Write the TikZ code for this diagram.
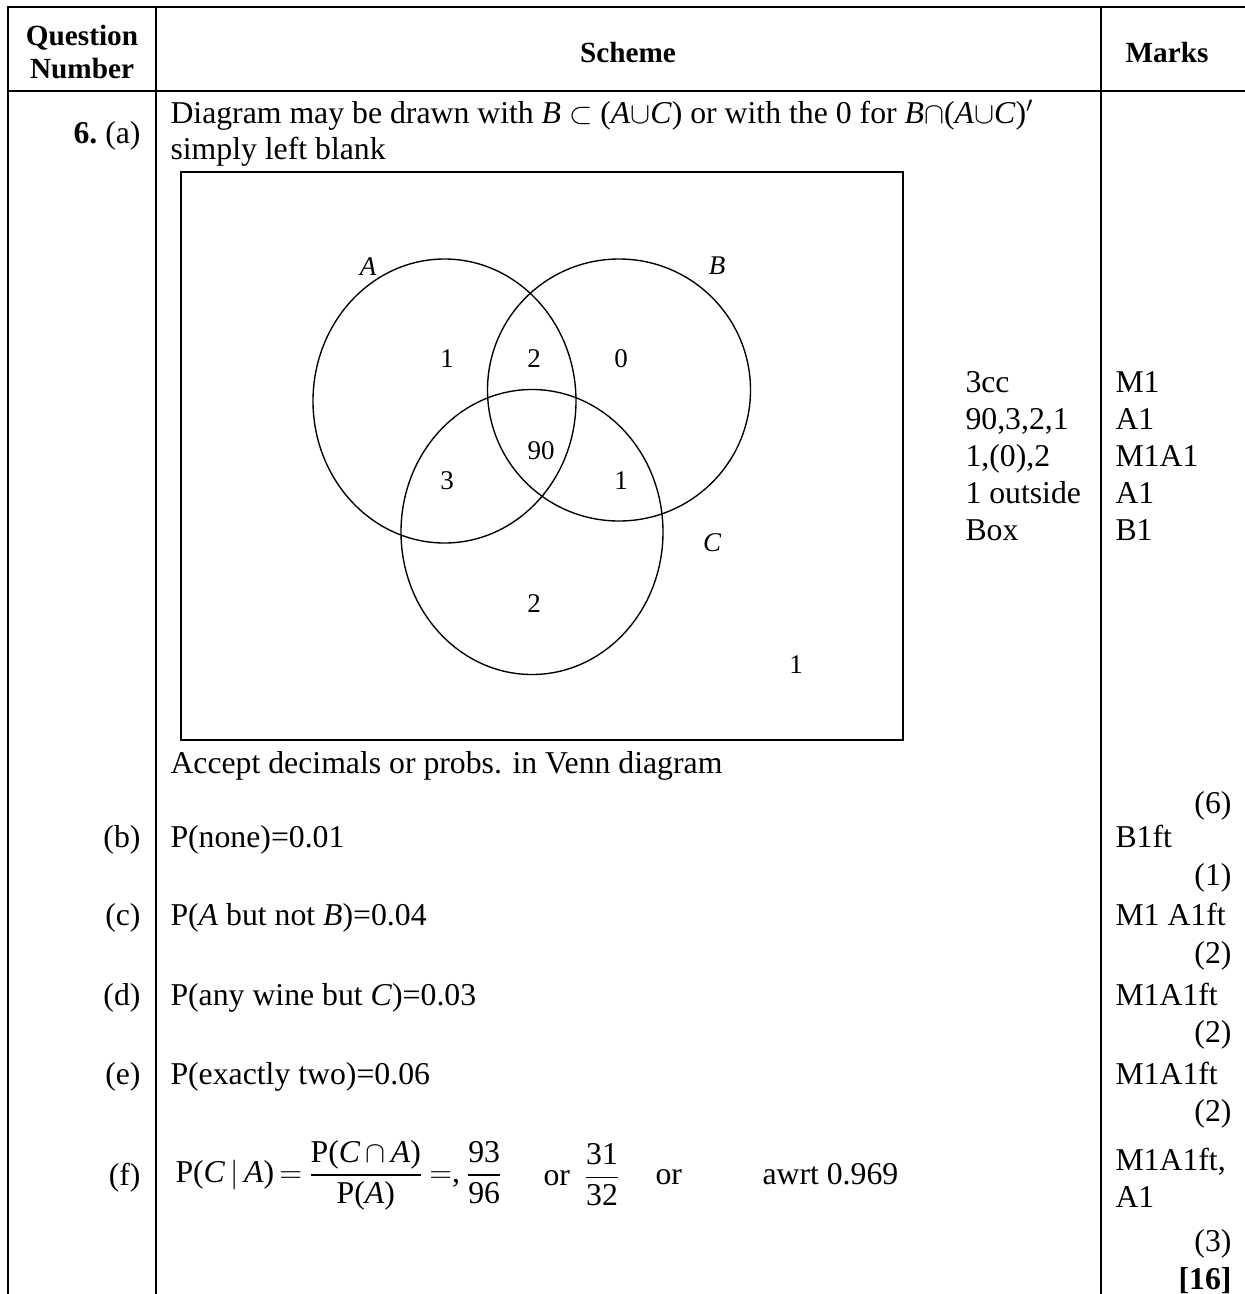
\documentclass[tikz,border=0pt]{standalone}
\usepackage{amsmath}
\usepackage{fontspec}
\setmainfont{Liberation Serif}
\usetikzlibrary{positioning}

\begin{document}
\begin{tikzpicture}[
  x=0.4pt, y=-0.4pt,
  txt/.style={font=\fontsize{12.7}{14.6}\selectfont, inner sep=0pt, anchor=base west},
  lbl/.style={txt, anchor=base east},
  hdr/.style={font=\fontsize{11.7}{13.2}\selectfont\bfseries, inner sep=0pt, align=center},
  num/.style={font=\fontsize{10.8}{12}\selectfont, inner sep=0pt},
  setname/.style={font=\fontsize{10.8}{12}\selectfont\itshape, inner sep=0pt},
  rule/.style={line width=1pt},
  frame/.style={line width=0.8pt},
  set/.style={line width=0.55pt}
]
\useasboundingbox (0,0) rectangle (1245,1294);

% table rules
\draw[rule] (1260,7) -- (8,7) -- (8,1310);
\draw[rule] (8,91) -- (1260,91);
\draw[rule] (156,7) -- (156,1310);
\draw[rule] (1101,7) -- (1101,1310);

% header
\node[hdr] (qnum) at (82,52) {Question\\Number};
\node[hdr] (scheme) at (628,52) {Scheme};
\node[hdr] (marks) at (1167,52) {Marks};

% part (a)
\node[lbl] (qa) at (141,143) {\textbf{6.}~(a)};
\node[txt] (intro1) at (170,123) {Diagram may be drawn with \textit{B} $\subset$ (\textit{A}$\cup$\textit{C}) or with the 0 for \textit{B}$\cap$(\textit{A}$\cup$\textit{C})$'$};
\node[txt] (intro2) at (170,159) {simply left blank};

% Venn diagram
\draw[frame] (181,172) rectangle (903,740);
\draw[set] (444.5,401) ellipse [x radius=131.5, y radius=142];
\draw[set] (619,390) ellipse [x radius=131.5, y radius=131];
\draw[set] (532,532) ellipse [x radius=131, y radius=142.5];
\node[setname] (labA) at (368,267) {A};
\node[setname] (labB) at (717,266) {B};
\node[setname] (labC) at (712,543) {C};
\node[num] (nA) at (447,359) {1};
\node[num] (nAB) at (534,359) {2};
\node[num] (nB) at (621,359) {0};
\node[num] (nABC) at (541,451) {90};
\node[num] (nAC) at (447,481) {3};
\node[num] (nBC) at (621,481) {1};
\node[num] (nC) at (534,604) {2};
\node[num] (nout) at (796,665) {1};

% notes and marks for (a)
\node[txt] (w1) at (965,392) {3cc};
\node[txt] (w2) at (965,429) {90,3,2,1};
\node[txt] (w3) at (965,466) {1,(0),2};
\node[txt] (w4) at (965,503) {1 outside};
\node[txt] (w5) at (965,540) {Box};
\node[txt] (m1) at (1115,392) {M1};
\node[txt] (m2) at (1115,429) {A1};
\node[txt] (m3) at (1115,466) {M1A1};
\node[txt] (m4) at (1115,503) {A1};
\node[txt] (m5) at (1115,540) {B1};
\node[txt] (accept) at (170,773) {Accept decimals or probs. in Venn diagram};
\node[lbl] (ta) at (1232,813) {(6)};

% parts (b) to (e)
\node[lbl] (qb) at (141,847) {(b)};
\node[txt] (sb) at (170,847) {P(none)=0.01};
\node[txt] (mb) at (1115,847) {B1ft};
\node[lbl] (tb) at (1232,885) {(1)};
\node[lbl] (qc) at (141,925) {(c)};
\node[txt] (sc) at (170,925) {P(\textit{A} but not \textit{B})=0.04};
\node[txt] (mc) at (1115,925) {M1 A1ft};
\node[lbl] (tc) at (1232,963) {(2)};
\node[lbl] (qd) at (141,1005) {(d)};
\node[txt] (sd) at (170,1005) {P(any wine but \textit{C})=0.03};
\node[txt] (md) at (1115,1005) {M1A1ft};
\node[lbl] (td) at (1232,1042) {(2)};
\node[lbl] (qe) at (141,1084) {(e)};
\node[txt] (se) at (170,1084) {P(exactly two)=0.06};
\node[txt] (me) at (1115,1084) {M1A1ft};
\node[lbl] (te) at (1232,1121) {(2)};

% part (f)
\node[lbl] (qf) at (141,1185) {(f)};
\node[txt, anchor=west] (sf) at (175,1175) {P(\textit{C}\,$|$\,\textit{A})\,$=$\,$\dfrac{\text{P(\textit{C}\,$\cap$\,\textit{A})}}{\text{P(\textit{A})}}$\,$=$,\,$\dfrac{\text{93}}{\text{96}}$};
\node[txt, anchor=west] (sf2) at (543,1175) {or\, $\dfrac{\text{31}}{\text{32}}$};
\node[txt] (sf3) at (655,1184) {or};
\node[txt] (sf4) at (762,1184) {awrt 0.969};
\node[txt] (mf1) at (1115,1170) {M1A1ft,};
\node[txt] (mf2) at (1115,1207) {A1};
\node[lbl] (tf) at (1232,1251) {(3)};
\node[lbl, font=\fontsize{12.7}{14.6}\selectfont\bfseries] (total) at (1232,1289) {[16]};
\end{tikzpicture}
\end{document}
